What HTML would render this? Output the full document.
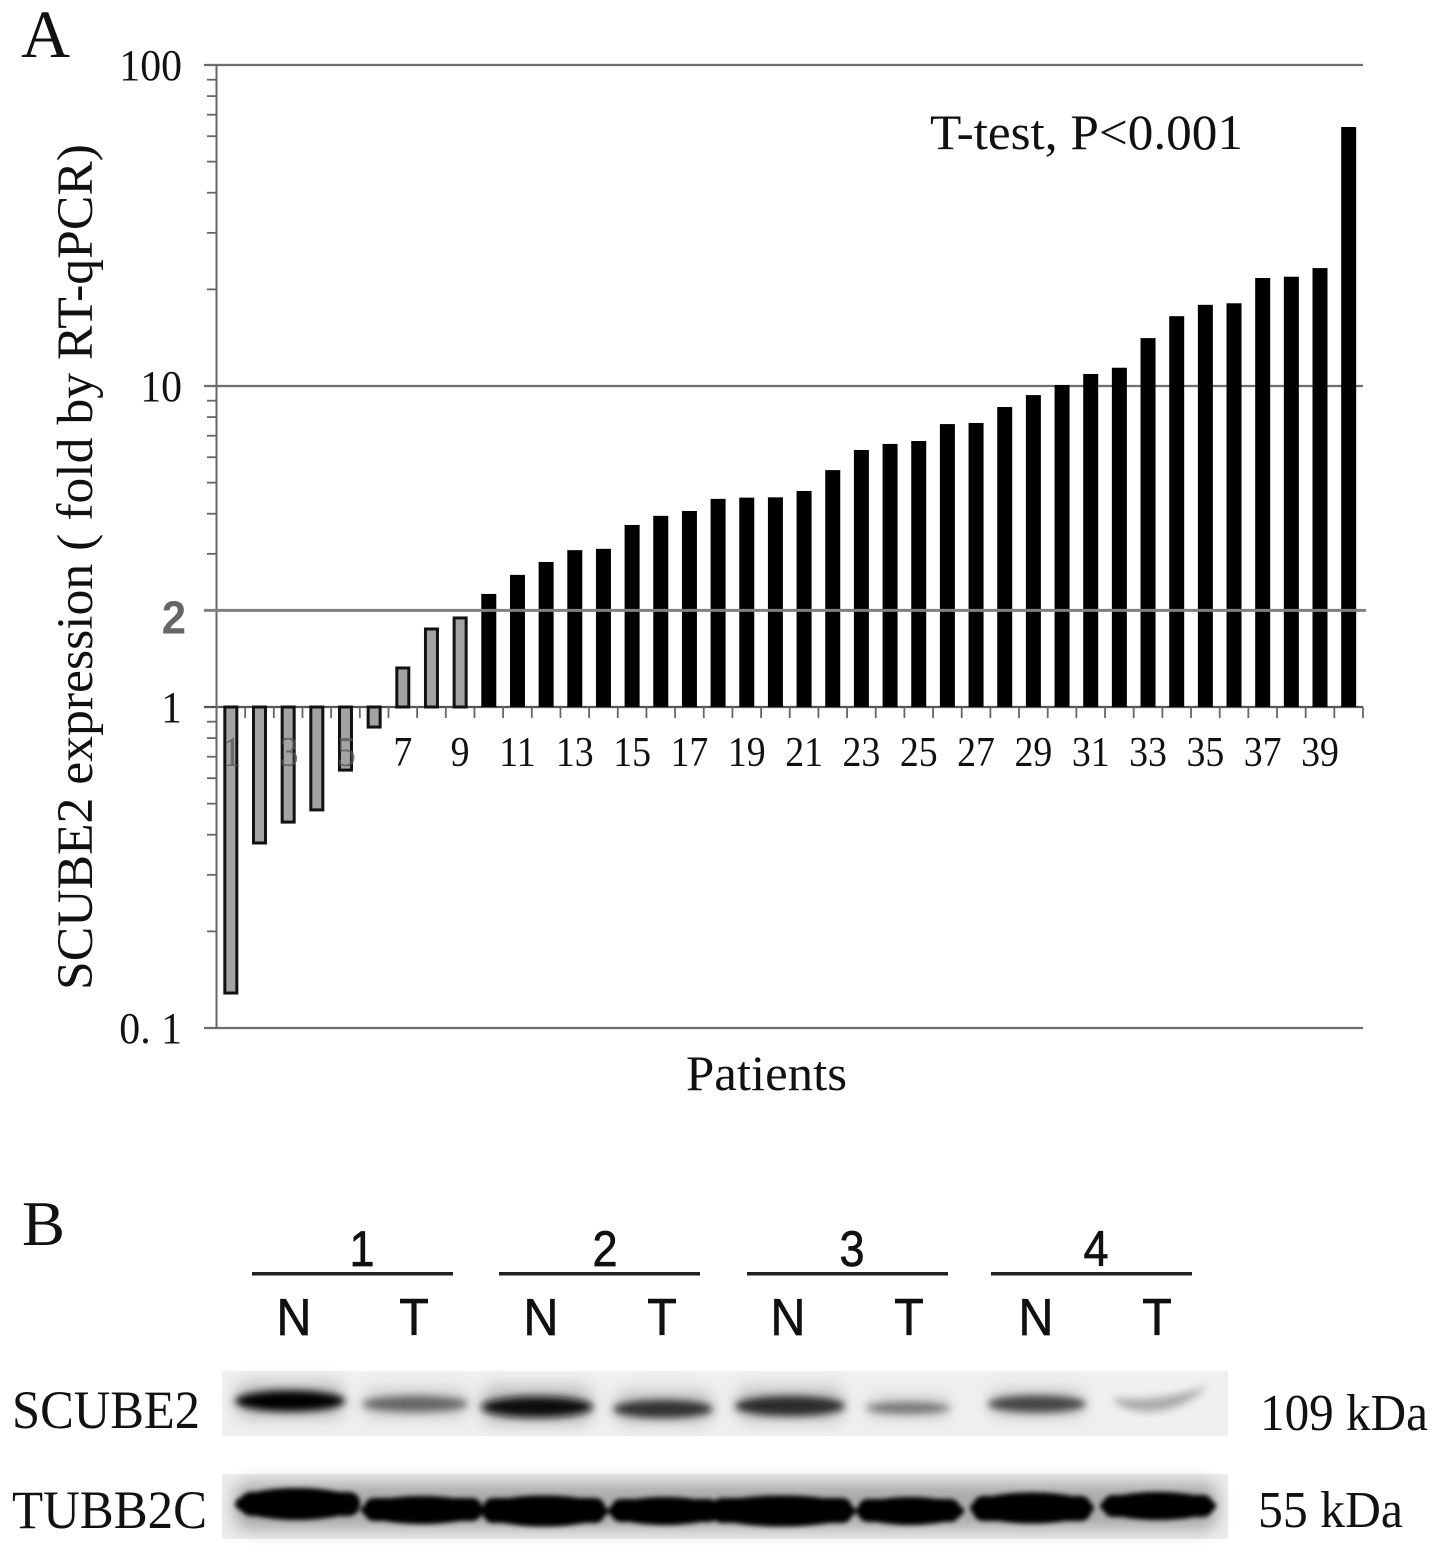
<!DOCTYPE html>
<html>
<head>
<meta charset="utf-8">
<title>SCUBE2 expression</title>
<style>
html,body{margin:0;padding:0;background:#fff;width:1441px;height:1551px;overflow:hidden}
svg{display:block}
text{font-family:"Liberation Serif","Noto Serif CJK SC",serif;fill:#111}
.sans{font-family:"Liberation Sans",sans-serif;fill:#111;stroke:#111;stroke-width:.7}
</style>
</head>
<body>
<svg id="fig" xmlns="http://www.w3.org/2000/svg" width="1441" height="1551" viewBox="0 0 1441 1551">
  <defs>
    <filter id="b2" x="-30%" y="-150%" width="160%" height="400%"><feGaussianBlur stdDeviation="4"/></filter>
    <filter id="b6" x="-30%" y="-100%" width="160%" height="300%"><feGaussianBlur stdDeviation="8"/></filter>
    <filter id="b1" x="-30%" y="-100%" width="160%" height="300%"><feGaussianBlur stdDeviation="2.4"/></filter>
  </defs>

  <text x="21" y="57" font-size="68">A</text>
  <g id="chart"></g>
  <text x="930" y="149" font-size="50" textLength="313" lengthAdjust="spacingAndGlyphs">T-test, P&lt;0.001</text>
  <text x="686" y="1090" font-size="50" textLength="161" lengthAdjust="spacingAndGlyphs">Patients</text>
  <text transform="translate(92,990) rotate(-90)" x="0" y="0" font-size="51" textLength="846" lengthAdjust="spacingAndGlyphs">SCUBE2 expression ( fold by RT-qPCR)</text>

  <text x="22" y="1245" font-size="64" textLength="43" lengthAdjust="spacingAndGlyphs">B</text>

  <g>
    <text class="sans" transform="translate(362,1266) scale(.9,1)" font-size="50" text-anchor="middle">1</text>
    <text class="sans" transform="translate(605,1266) scale(.9,1)" font-size="50" text-anchor="middle">2</text>
    <text class="sans" transform="translate(852,1266) scale(.9,1)" font-size="50" text-anchor="middle">3</text>
    <text class="sans" transform="translate(1096,1266) scale(.9,1)" font-size="50" text-anchor="middle">4</text>
    <rect x="252" y="1272" width="201" height="3.5" fill="#222"/>
    <rect x="499" y="1272" width="201" height="3.5" fill="#222"/>
    <rect x="747" y="1272" width="201" height="3.5" fill="#222"/>
    <rect x="991" y="1272" width="201" height="3.5" fill="#222"/>
    <text class="sans" transform="translate(294,1335) scale(.93,1)" font-size="52" text-anchor="middle">N</text>
    <text class="sans" transform="translate(414,1335) scale(.93,1)" font-size="52" text-anchor="middle">T</text>
    <text class="sans" transform="translate(541,1335) scale(.93,1)" font-size="52" text-anchor="middle">N</text>
    <text class="sans" transform="translate(662,1335) scale(.93,1)" font-size="52" text-anchor="middle">T</text>
    <text class="sans" transform="translate(788,1335) scale(.93,1)" font-size="52" text-anchor="middle">N</text>
    <text class="sans" transform="translate(909,1335) scale(.93,1)" font-size="52" text-anchor="middle">T</text>
    <text class="sans" transform="translate(1036,1335) scale(.93,1)" font-size="52" text-anchor="middle">N</text>
    <text class="sans" transform="translate(1157,1335) scale(.93,1)" font-size="52" text-anchor="middle">T</text>
  </g>

  <g>
    <rect x="222" y="1371" width="1006" height="65" fill="#f0f0f0"/>
    <g filter="url(#b6)" opacity=".5">
      <rect x="236" y="1382" width="108" height="36" rx="12" fill="#888"/>
      <rect x="363" y="1388" width="105" height="30" rx="12" fill="#aaa"/>
      <rect x="482" y="1386" width="110" height="38" rx="12" fill="#888"/>
      <rect x="615" y="1390" width="97" height="34" rx="12" fill="#999"/>
      <rect x="736" y="1386" width="108" height="36" rx="12" fill="#999"/>
      <rect x="867" y="1394" width="83" height="26" rx="10" fill="#bbb"/>
      <rect x="989" y="1388" width="96" height="30" rx="12" fill="#aaa"/>
    </g>
    <g filter="url(#b2)">
      <ellipse cx="290" cy="1401" rx="55" ry="10.5" fill="#000"/>
      <ellipse cx="415" cy="1404" rx="53" ry="8" fill="#666"/>
      <ellipse cx="537" cy="1407" rx="56" ry="10.5" fill="#111"/>
      <ellipse cx="663" cy="1409" rx="50" ry="9" fill="#333"/>
      <ellipse cx="790" cy="1406" rx="55" ry="10" fill="#2a2a2a"/>
      <ellipse cx="908" cy="1408" rx="42" ry="6" fill="#777"/>
      <ellipse cx="1037" cy="1404" rx="49" ry="8.5" fill="#444"/>
      <path d="M1112 1398 Q1160 1402 1207 1386 Q1185 1410 1150 1412 Q1122 1412 1112 1398Z" fill="#aaa"/>
    </g>
  </g>

  <g>
    <rect x="222" y="1474" width="1006" height="65" fill="#ececec"/>
    <g filter="url(#b6)" opacity=".6">
      <rect x="234" y="1482" width="984" height="48" rx="16" fill="#808080"/>
    </g>
    <g filter="url(#b1)">
      <rect x="240" y="1492" width="120" height="24" rx="11" fill="#000"/>
      <rect x="364" y="1498" width="118" height="23" rx="10" fill="#000"/>
      <rect x="483" y="1498" width="122" height="25" rx="10" fill="#000"/>
      <rect x="611" y="1499" width="108" height="23" rx="10" fill="#000"/>
      <rect x="712" y="1498" width="140" height="25" rx="10" fill="#000"/>
      <rect x="858" y="1499" width="102" height="23" rx="10" fill="#000"/>
      <rect x="973" y="1496" width="118" height="25" rx="10" fill="#000"/>
      <rect x="1103" y="1495" width="110" height="22" rx="10" fill="#000"/>
      <ellipse cx="297" cy="1504" rx="62" ry="16" fill="#000"/>
      <ellipse cx="422" cy="1510" rx="61" ry="14" fill="#000"/>
      <ellipse cx="544" cy="1511" rx="64" ry="15.5" fill="#000"/>
      <ellipse cx="665" cy="1511" rx="57" ry="14" fill="#000"/>
      <ellipse cx="782" cy="1511" rx="74" ry="15.5" fill="#000"/>
      <ellipse cx="910" cy="1511" rx="54" ry="14" fill="#000"/>
      <ellipse cx="1032" cy="1508" rx="62" ry="15.5" fill="#000"/>
      <ellipse cx="1158" cy="1506" rx="58" ry="14" fill="#000"/>
    </g>
  </g>

  <text x="12" y="1428" font-size="54" textLength="188" lengthAdjust="spacingAndGlyphs">SCUBE2</text>
  <text x="12" y="1528" font-size="54" textLength="195" lengthAdjust="spacingAndGlyphs">TUBB2C</text>
  <text x="1260" y="1430" font-size="52" textLength="168" lengthAdjust="spacingAndGlyphs">109 kDa</text>
  <text x="1258" y="1527" font-size="52" textLength="145" lengthAdjust="spacingAndGlyphs">55 kDa</text>
</svg>
<script>
const patients = [1,2,3,4,5,6,7,8,9,10,11,12,13,14,15,16,17,18,19,20,21,22,23,24,25,26,27,28,29,30,31,32,33,34,35,36,37,38,39,40];
const foldValues = [0.1285,0.377,0.438,0.478,0.636,0.866,1.323,1.75,1.894,2.25,2.58,2.83,3.08,3.11,3.69,3.94,4.08,4.45,4.49,4.50,4.71,5.47,6.32,6.60,6.74,7.61,7.67,8.60,9.37,10.07,10.9,11.4,14.1,16.5,17.9,18.1,21.7,21.9,23.3,64.1];
const majorTicks = [100,10,1,0.1];
const majorTickLabels = ["100","10","1","0. 1"];
const minorMultipliers = [2,3,4,5,6,7,8,9];
const thresholdValue = 2;
const thresholdLabel = "2";

const NS = 'http://www.w3.org/2000/svg';
const chart = document.getElementById('chart');
const plotLeft = 216.5, plotRight = 1363, yAtOne = 707, decadeHeight = 321;
const yScale = v => yAtOne - decadeHeight * Math.log10(v);
const bandWidth = (plotRight - plotLeft) / patients.length;
const xScale = i => plotLeft + bandWidth * (i + 0.5);

function make(tag, attrs, parent) {
  const el = document.createElementNS(NS, tag);
  for (const k in attrs) el.setAttribute(k, attrs[k]);
  (parent || chart).appendChild(el);
  return el;
}

// minor ticks
for (let d = -1; d < 2; d++) {
  minorMultipliers.forEach(m => {
    const y = yScale(m * Math.pow(10, d));
    const t = make('line', {x1: 207, x2: plotLeft, y1: y, y2: y, stroke: '#666', 'stroke-width': 1.8});
    
    
  });
}

// gridlines + major labels
majorTicks.forEach((v, i) => {
  const y = yScale(v);
  const g = make('line', {x1: 204, x2: plotRight, y1: y, y2: y, stroke: v === 1 ? '#555' : '#6e6e6e', 'stroke-width': 2.2});
  
  
  const t = make('text', {transform: 'translate(182,' + (y + 15) + ') scale(.95,1)', 'font-size': 44, 'text-anchor': 'end'});
  t.textContent = majorTickLabels[i];
  
  
});

// y axis line
const yAxis = make('line', {x1: plotLeft, x2: plotLeft, y1: yScale(100), y2: yScale(0.1), stroke: '#666', 'stroke-width': 2});



// x ticks at category boundaries
for (let i = 0; i <= patients.length; i++) {
  const x = plotLeft + bandWidth * i;
  const t = make('line', {x1: x, x2: x, y1: yAtOne, y2: yAtOne + 11, stroke: '#666', 'stroke-width': 1.8});
  
  
}

// bars
foldValues.forEach((v, i) => {
  const cx = xScale(i);
  const y0 = yScale(1), y1 = yScale(v);
  const top = Math.min(y0, y1), h = Math.abs(y0 - y1);
  const low = i < 9;
  const r = make('rect', low
    ? {x: cx - 6, y: top, width: 12, height: h, fill: '#a3a3a3', stroke: '#111', 'stroke-width': 3}
    : {x: cx - 7.5, y: top, width: 15, height: h, fill: '#000'});
  
  
});

// x tick labels (odd patients); the first few overlap the bars and read faint
patients.forEach((p, i) => {
  if (p % 2 === 0) return;
  const overlapsBar = foldValues[i] < 0.7;
  const t = make('text', {transform: 'translate(' + (xScale(i) + (p < 7 ? 1 : 0)) + ',766) scale(.9,1)', 'font-size': 42, 'text-anchor': 'middle'});
  t.textContent = String(p);
  if (overlapsBar) t.setAttribute('style', 'fill:#555;opacity:.75');
  
  
});

// threshold line drawn above bars
const th = yScale(thresholdValue);
const thLine = make('line', {x1: 204, x2: 1366, y1: th, y2: th, stroke: '#808080', 'stroke-width': 3});


const thText = make('text', {transform: 'translate(186,' + (th + 23) + ') scale(.95,1)', 'font-size': 46, 'text-anchor': 'end', style: 'font-family:"Liberation Sans",sans-serif;fill:#666;font-weight:bold'});
thText.textContent = thresholdLabel;


</script>
</body>
</html>
